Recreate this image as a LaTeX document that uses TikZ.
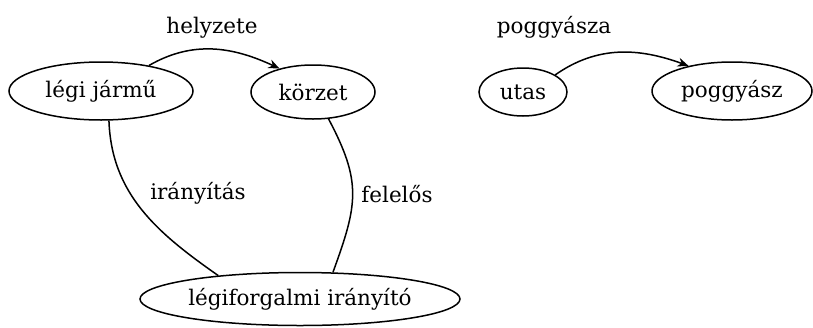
\documentclass[tikz,border=0pt]{standalone}
\usepackage{fontspec}
\setmainfont{DejaVu Serif}
\usetikzlibrary{shapes.geometric,arrows.meta}
\begin{document}
\begin{tikzpicture}[x=1pt,y=-1pt,
  every node/.style={font=\fontsize{21.5}{26}\selectfont},
  ent/.style={draw,ellipse,line width=1.5pt,inner sep=0pt},
  link/.style={line width=1.5pt},
  rel/.style={link,-{Stealth[length=11pt,width=9pt]}},
  lbl/.style={inner sep=0pt,anchor=base}]
\useasboundingbox (0,0) rectangle (813,327);
% entities
\node[ent,minimum width=184pt,minimum height=58pt] (aircraft) at (101,91) {légi jármű};
\node[ent,minimum width=124pt,minimum height=54pt] (zone) at (313,92) {körzet};
\node[ent,minimum width=320pt,minimum height=53pt] (atc) at (300,299) {légiforgalmi irányító};
\node[ent,minimum width=88pt,minimum height=48pt] (pax) at (523,92) {utas};
\node[ent,minimum width=160pt,minimum height=58pt] (bag) at (732,91) {poggyász};
% relationships
\draw[rel] (aircraft.28) to[out=30,in=155] (zone.145);
\node[lbl] (lposition) at (212,33) {helyzete};
\draw[rel] (pax.28) to[out=35,in=160] (bag.150);
\node[lbl] (lbaggage) at (554,33) {poggyásza};
\draw[link] (aircraft.-75) to[out=-88,in=145] (atc.164);
\node[lbl] (lcontrol) at (198,199) {irányítás};
\draw[link] (zone.-60) to[out=-62,in=70,looseness=1.2] (atc.39);
\node[lbl] (lresp) at (397,202) {felelős};
\end{tikzpicture}
\end{document}
